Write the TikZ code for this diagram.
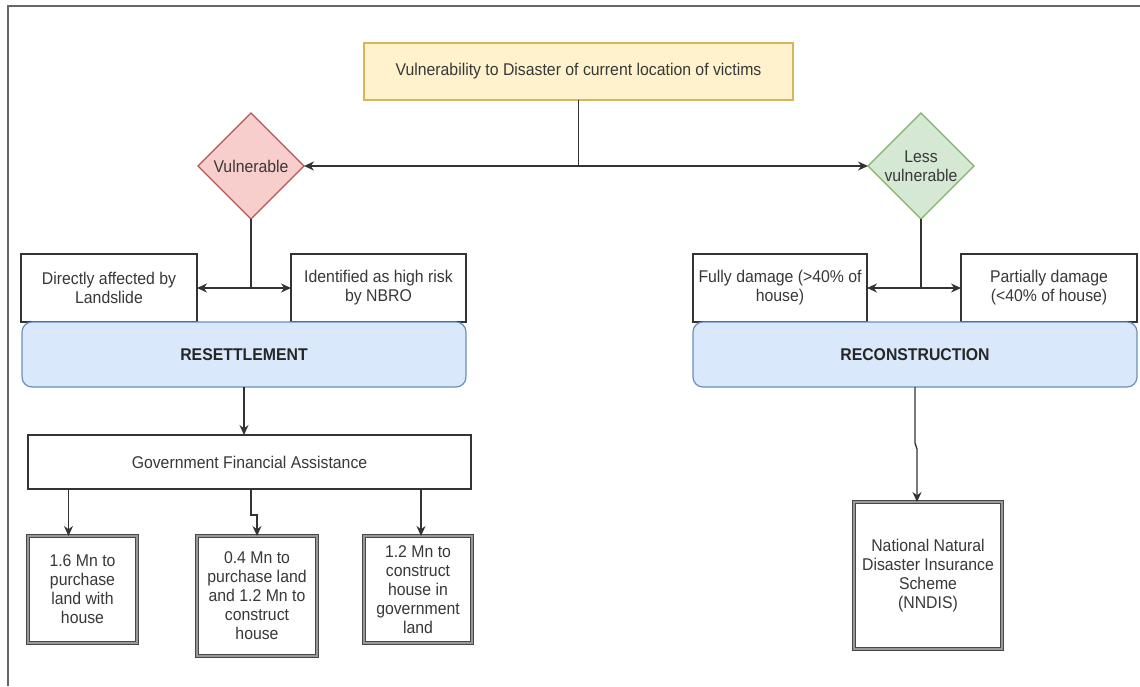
\documentclass[tikz,border=0pt]{standalone}
\usepackage{fontspec}
\setmainfont{Liberation Sans}[FakeStretch=0.93]
\usetikzlibrary{shapes.geometric,arrows.meta}
\definecolor{txt}{HTML}{383838}
\definecolor{ln}{HTML}{333333}
\definecolor{yelF}{HTML}{FFF2CC}\definecolor{yelD}{HTML}{D6B656}
\definecolor{redF}{HTML}{F8CECC}\definecolor{redD}{HTML}{B85450}
\definecolor{grnF}{HTML}{D5E8D4}\definecolor{grnD}{HTML}{82B366}
\definecolor{bluF}{HTML}{DAE8FC}\definecolor{bluD}{HTML}{6C8EBF}
\definecolor{frm}{HTML}{666666}
\tikzset{
  x=1pt,y=-1pt,
  every node/.style={inner sep=0pt,outer sep=0pt,text=txt,align=center,
    font=\fontsize{17}{19}\selectfont},
  plainbox/.style={draw=ln,line width=1.3pt,fill=white,rectangle},
  thickbox/.style={draw=ln!90,double=black!40,double distance=1.2pt,line width=1pt,fill=white,rectangle},
  topbox/.style={draw=yelD,line width=1.2pt,fill=yelF,rectangle},
  vulbox/.style={draw=redD,line width=1.2pt,fill=redF,diamond},
  lessbox/.style={draw=grnD,line width=1.2pt,fill=grnF,diamond},
  phasebox/.style={draw=bluD,line width=1.2pt,fill=bluF,rectangle,rounded corners=10pt,
    font=\fontsize{17}{19}\selectfont\bfseries,text=black!85},
  conn/.style={draw=ln,line width=1.3pt},
  arr/.style={conn,-{Stealth[length=10pt,width=9pt]}},
  darr/.style={conn,{Stealth[length=10pt,width=9pt]}-{Stealth[length=10pt,width=9pt]}}
}
\begin{document}
\begin{tikzpicture}
\useasboundingbox (0,0) rectangle (1140,686);
\fill[white] (0,0) rectangle (1140,686);
\draw[frm,line width=2pt] (8,686) -- (8,6) -- (1140,6);

% nodes
\node[topbox,minimum width=429pt,minimum height=57pt] (top) at (578.5,71.5)
  {Vulnerability to Disaster of current location of victims};
\node[vulbox,minimum width=106pt,minimum height=106pt] (vul) at (251,166) {Vulnerable};
\node[lessbox,minimum width=106pt,minimum height=106pt] (lvul) at (921,166) {Less\\vulnerable};

\node[plainbox,minimum width=176pt,minimum height=68pt] (dir) at (109,288) {Directly affected by\\Landslide};
\node[plainbox,minimum width=175pt,minimum height=68pt] (nbro) at (378.5,288) {Identified as high risk\\by NBRO};
\node[plainbox,minimum width=174pt,minimum height=68pt] (fully) at (780,288) {Fully damage (>40\% of\\house)};
\node[plainbox,minimum width=176pt,minimum height=68pt] (part) at (1049,288) {Partially damage\\(<40\% of house)};

\node[phasebox,minimum width=444pt,minimum height=65pt] (reset) at (244,354.5) {RESETTLEMENT};
\node[phasebox,minimum width=444pt,minimum height=65pt] (recon) at (915,354.5) {RECONSTRUCTION};

\node[plainbox,minimum width=443pt,minimum height=54pt] (gov) at (249.5,462) {Government Financial Assistance};

\node[thickbox,minimum width=109pt,minimum height=107pt] (b1) at (82.5,589.5) {1.6 Mn to\\purchase\\land with\\house};
\node[thickbox,minimum width=120pt,minimum height=120pt] (b2) at (257,596) {0.4 Mn to\\purchase land\\and 1.2 Mn to\\construct\\house};
\node[thickbox,minimum width=108pt,minimum height=107pt] (b3) at (418,589.5) {1.2 Mn to\\construct\\house in\\government\\land};
\node[thickbox,minimum width=148pt,minimum height=147pt] (nndis) at (928,575.5) {National Natural\\Disaster Insurance\\Scheme\\(NNDIS)};

% connectors
\draw[conn] (top.south) -- (top.south |- vul.east);
\draw[darr] (vul.east) -- (lvul.west);

\draw[conn] (vul.south) -- (vul.south |- dir.east);
\draw[darr] (dir.east) -- (nbro.west);
\draw[conn] (lvul.south) -- (lvul.south |- fully.east);
\draw[darr] (fully.east) -- (part.west);

\draw[arr] (reset.south) -- (reset.south |- gov.north);

\coordinate (a1) at ([xshift=-14pt]b1.north);
\draw[arr] (a1 |- gov.south) -- (a1);
\draw[arr] ([xshift=1.5pt]gov.south) -- ++(0,26) -| (b2.north);
\coordinate (a3) at ([xshift=3pt]b3.north);
\draw[arr] (a3 |- gov.south) -- (a3);

\coordinate (a4) at ([xshift=-11pt]nndis.north);
\draw[arr] (recon.south) -- ++(0,56) -- ++(2,6) -- (a4);
\end{tikzpicture}
\end{document}
